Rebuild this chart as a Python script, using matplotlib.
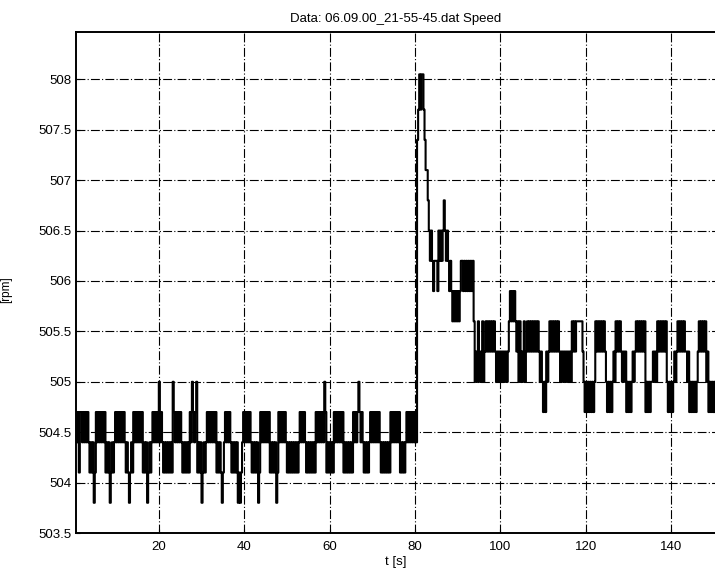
import matplotlib
matplotlib.use("Agg")
import matplotlib.pyplot as plt
from matplotlib.ticker import FormatStrFormatter

# quantised speed levels, one character per level
LEVEL_CODES = "0123456789abcde"
LEVELS = [503.8, 504.1, 504.4, 504.7, 505.0, 505.3, 505.6, 505.9,
          506.2, 506.5, 506.8, 507.1, 507.4, 507.7, 508.05]
DT = 0.25  # sample spacing [s]

SEGMENTS = [
    (0.50, "32313"), (1.75, "32323232"), (3.75, "121201"),
    (5.25, "323232323"), (7.50, "121201212"), (9.75, "3232323232"),
    (12.25, "1210121"), (14.00, "323232323"), (16.25, "121201212"),
    (18.50, "3232324232"), (21.00, "121212121"), (23.25, "432323232"),
    (25.50, "1212121"), (27.25, "3243234"), (29.00, "121201212"),
    (31.25, "323232323"), (33.50, "12121012"), (35.50, "323232"),
    (37.00, "12121201012"), (39.75, "32323232"), (41.75, "12121201"),
    (43.75, "323232323"), (46.00, "12121201"), (48.00, "32323232"),
    (50.00, "121212121212"), (53.00, "323232"), (54.50, "121212121"),
    (56.75, "3232323243"), (59.25, "1212121"), (61.00, "323232323"),
    (63.25, "121212121"), (65.50, "3232343232"), (68.00, "121212"),
    (69.50, "3232323232"), (72.00, "121212121"), (74.25, "323232323"),
    (76.50, "121212"), (78.00, "3232323232"),
    # speed step
    (80.50, "cdedeed"), (82.25, "cbba"), (83.25, "9898"),
    (84.25, "78887"), (85.50, "98989a989"), (87.75, "8787676"),
    (89.50, "767678"), (91.00, "87878787878"), (93.75, "64546454645"),
    (96.50, "656565656"), (98.75, "545454545454"), (101.75, "5676767656"),
    (104.25, "46454645"), (106.25, "65656565656"), (109.00, "5454"),
    (110.00, "343"), (110.75, "545"), (111.50, "6565656565"),
    (114.00, "45454545454"), (116.75, "65656666665"), (119.50, "43434343434"),
    (122.25, "656565656"), (124.50, "54343434"), (126.50, "546565654545"),
    (129.50, "34343"), (130.75, "4545"), (131.75, "656565656"),
    (134.00, "343434"), (135.50, "45454"), (136.75, "656565656"),
    (139.00, "4343434"), (140.75, "545"), (141.50, "65656565"),
    (143.50, "545"), (144.25, "3434343"), (146.00, "4"),
    (146.25, "56565656"), (148.25, "45"), (148.75, "3434343"),
]

X_TICKS = [20, 40, 60, 80, 100, 120, 140]
Y_TICKS = [503.5, 504, 504.5, 505, 505.5, 506, 506.5, 507, 507.5, 508]
TITLE = "Data: 06.09.00_21-55-45.dat Speed"

t = []
n = []
for t0, codes in SEGMENTS:
    for i, c in enumerate(codes):
        t.append(t0 + DT * i)
        n.append(LEVELS[LEVEL_CODES.index(c)])

plt.rcParams['font.family'] = ['Liberation Sans', 'DejaVu Sans']

fig = plt.figure(figsize=(7.15, 5.79), dpi=100)
ax = fig.add_axes([76 / 715, 46 / 579, 1 - 76 / 715, 501 / 579])

ax.plot(t, n, color='black', lw=1.5, drawstyle='steps-post')

ax.set_xlim(0.6, 150.3)
ax.set_ylim(503.5, 508.47)
ax.set_xticks(X_TICKS)
ax.set_yticks(Y_TICKS)
ax.yaxis.set_major_formatter(FormatStrFormatter('%g'))
ax.tick_params(direction='in', length=3, width=0.8, labelsize=9.5,
               colors='black')
ax.tick_params(axis='x', pad=6)
ax.tick_params(axis='y', pad=3)

ax.grid(True, color='black', lw=0.8, linestyle=(0, (8, 2, 1, 2)))
ax.set_axisbelow(True)

for side in ['left', 'top', 'bottom']:
    ax.spines[side].set_linewidth(1.4)
ax.spines['right'].set_visible(False)

ax.set_title(TITLE, fontsize=9.5, pad=7)
ax.set_xlabel("t [s]", fontsize=9.5, labelpad=2)
ax.set_ylabel("[rpm]", fontsize=8.5)
ax.yaxis.set_label_coords(-0.1, 0.485)

fig.savefig("out.png", dpi=100)
